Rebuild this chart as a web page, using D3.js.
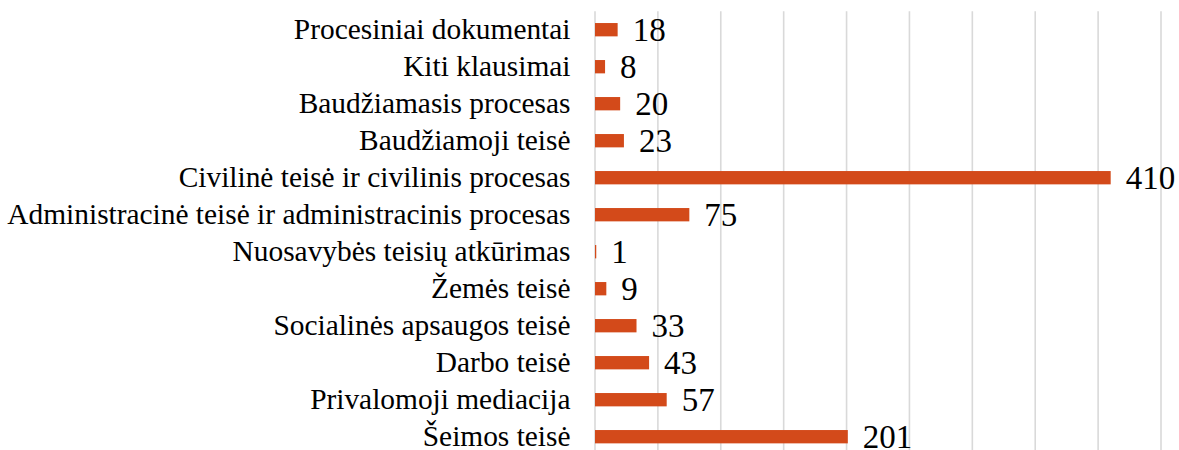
<!DOCTYPE html>
<html>
<head>
<meta charset="utf-8">
<script src="https://cdn.jsdelivr.net/npm/d3@7"></script>
<style>
  body { margin: 0; background: #fff; }
  svg text { font-family: "Liberation Serif", "Times New Roman", serif; fill: #000; }
</style>
</head>
<body>
<div id="chart"></div>
<script>
// duomenys (iš viršaus į apačią)
var categories = [
  "Procesiniai dokumentai",
  "Kiti klausimai",
  "Baudžiamasis procesas",
  "Baudžiamoji teisė",
  "Civilinė teisė ir civilinis procesas",
  "Administracinė teisė ir administracinis procesas",
  "Nuosavybės teisių atkūrimas",
  "Žemės teisė",
  "Socialinės apsaugos teisė",
  "Darbo teisė",
  "Privalomoji mediacija",
  "Šeimos teisė"
];
var values = [18, 8, 20, 23, 410, 75, 1, 9, 33, 43, 57, 201];
var ticks = [0, 50, 100, 150, 200, 250, 300, 350, 400, 450];

var W = 1179, H = 450;
var plotLeft = 595, plotRight = 1161;
var plotTop = 11.2, rowStep = 37;
var plotBottom = plotTop + rowStep * categories.length;

var svg = d3.select("#chart").append("svg")
    .attr("width", W)
    .attr("height", H);

var x = d3.scaleLinear().domain([0, 450]).range([plotLeft, plotRight]);
var y = d3.scaleBand()
    .domain(categories)
    .range([plotTop, plotBottom])
    .paddingInner(0.64)
    .paddingOuter(0.32);

// tinklelis
svg.append("g")
    .selectAll("line")
    .data(ticks)
    .enter()
    .append("line")
    .attr("x1", d => x(d))
    .attr("x2", d => x(d))
    .attr("y1", plotTop)
    .attr("y2", plotBottom)
    .attr("stroke", "#d9d9d9")
    .attr("stroke-width", 1.6);

// stulpeliai
svg.append("g")
    .selectAll("rect")
    .data(values)
    .enter()
    .append("rect")
    .attr("x", x(0))
    .attr("y", (d, i) => y(categories[i]))
    .attr("width", d => x(d) - x(0))
    .attr("height", y.bandwidth())
    .attr("fill", "#d34a1a");

// kategorijų pavadinimai
svg.append("g")
    .selectAll("text")
    .data(categories)
    .enter()
    .append("text")
    .attr("x", 570.5)
    .attr("y", d => y(d) + y.bandwidth() / 2)
    .attr("dy", "0.33em")
    .attr("text-anchor", "end")
    .style("font-size", "29.4px")
    .text(d => d);

// reikšmės
svg.append("g")
    .selectAll("text")
    .data(values)
    .enter()
    .append("text")
    .attr("x", d => x(d) + 15)
    .attr("y", (d, i) => y(categories[i]) + y.bandwidth() / 2)
    .attr("dy", "0.35em")
    .style("font-size", "33px")
    .text(d => d);
</script>
</body>
</html>
